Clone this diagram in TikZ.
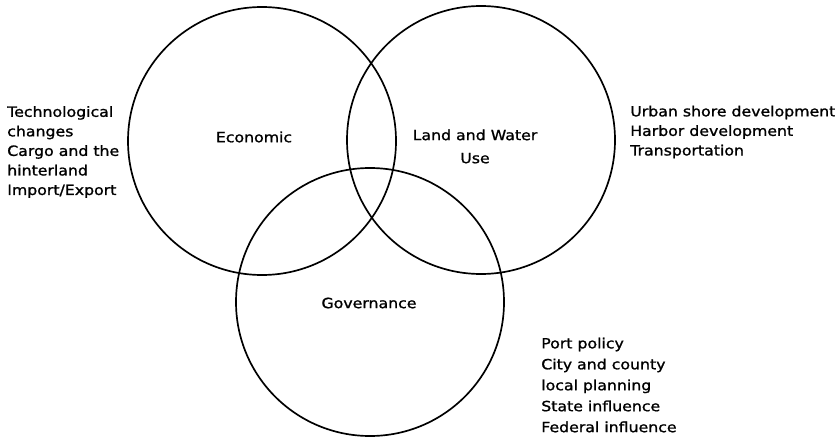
\documentclass[tikz,border=0pt]{standalone}
\usepackage{fontspec}
\setmainfont{DejaVu Sans}[FakeStretch=1.12, FakeBold=1.2]
\usepackage{amsmath}

\begin{document}
\begin{tikzpicture}[font=\fontsize{10}{13.9}\selectfont]
\useasboundingbox (0,0) rectangle (20.875,-10.975);
\tikzset{ring/.style={draw, circle, line width=1.2pt, minimum size=6.7cm, inner sep=0pt},
         list/.style={anchor=west, align=left, inner sep=0pt}}
\node[ring] (E)  at (6.55,-3.525)  {};
\node[ring] (L)  at (12.025,-3.5)  {};
\node[ring] (G)  at (9.25,-7.55)   {};

\node (Et) at (6.35,-3.425)  {Economic};
\node[align=center, font=\fontsize{10}{16.4}\selectfont] (Lt) at (11.875,-3.66) {Land and Water\\Use};
\node (Gt) at (9.225,-7.575) {Governance};

\node[list] (El) at (0.175,-3.8) {Technological\\changes\\Cargo and the\\hinterland\\Import/Export};
\node[list] (Ll) at (15.75,-3.3) {Urban shore development\\Harbor development\\Transportation};
\node[list, font=\fontsize{10}{14.9}\selectfont] (Gl) at (13.525,-9.625) {Port policy\\City and county\\local planning\\State influence\\Federal influence};
\end{tikzpicture}
\end{document}
